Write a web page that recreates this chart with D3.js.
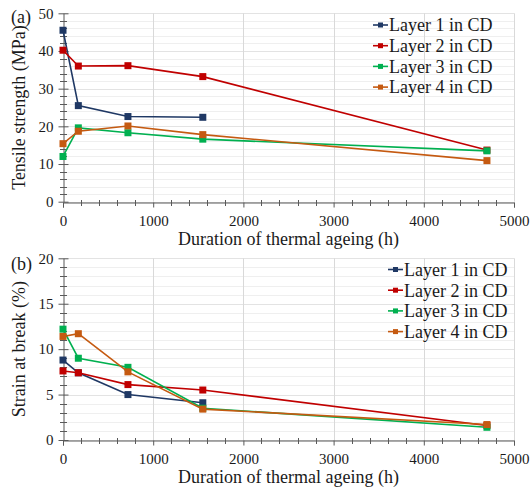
<!DOCTYPE html>
<html><head><meta charset="utf-8">
<script src="https://cdn.jsdelivr.net/npm/d3@7"></script>
<style>body{margin:0;background:#fff}svg{display:block}text{font-family:'Liberation Serif','Times New Roman','DejaVu Serif',serif !important;fill:#1a1a1a}</style>
</head><body>
<svg id="c" width="532" height="489"></svg>
<script>
const hours = [0, 170, 720, 1550, 4700];
const seriesNames = ["Layer 1 in CD", "Layer 2 in CD", "Layer 3 in CD", "Layer 4 in CD"];
const seriesColors = ["#1f3864", "#c00000", "#00b050", "#c55a11"];
const tensile1 = [45.5, 25.5, 22.6, 22.4, null];
const tensile2 = [40.2, 36.0, 36.1, 33.2, 13.7];
const tensile3 = [12.0, 19.6, 18.3, 16.6, 13.5];
const tensile4 = [15.4, 18.7, 20.1, 17.8, 10.9];
const strain1 = [8.8, 7.4, 5.0, 4.1, null];
const strain2 = [7.6, 7.4, 6.1, 5.5, 1.6];
const strain3 = [12.2, 9.0, 8.0, 3.5, 1.4];
const strain4 = [11.4, 11.7, 7.5, 3.4, 1.7];
const xTicks = [0, 1000, 2000, 3000, 4000, 5000];
const tensileTicks = [0, 10, 20, 30, 40, 50];
const strainTicks = [0, 5, 10, 15, 20];

const FONT = "'Liberation Serif','Times New Roman','DejaVu Serif',serif";
const svg = d3.select("#c").attr("font-family", FONT);

function panel(cfg) {
  const x = d3.scaleLinear().domain([0, 5000]).range([63, 514]);
  const y = d3.scaleLinear().domain([0, cfg.ymax]).range([cfg.y0, cfg.y1]);
  const g = svg.append("g");
  const minors = d3.range(0, cfg.ymax + 1e-9, cfg.minor);
  g.selectAll(".hg").data(minors).join("line")
    .attr("x1", x(0)).attr("x2", x(5000))
    .attr("y1", d => Math.round(y(d)) + 0.5).attr("y2", d => Math.round(y(d)) + 0.5)
    .attr("stroke", d => (Math.abs(d % cfg.major) < 1e-9) ? "#e3e3e3" : "#efefef").attr("stroke-width", 1);
  g.selectAll(".vg").data(xTicks.slice(1)).join("line")
    .attr("x1", d => Math.round(x(d)) + 0.5).attr("x2", d => Math.round(x(d)) + 0.5)
    .attr("y1", y(cfg.ymax)).attr("y2", y(0))
    .attr("stroke", "#d9d9d9").attr("stroke-width", 1);
  const ax = d3.axisBottom(x).tickValues(xTicks).tickSize(5).tickFormat(d3.format("d"));
  const xa = g.append("g").attr("transform", `translate(0,${Math.round(y(0)) + 0.5})`).call(ax)
    .attr("font-family", FONT);
  xa.select(".domain").attr("stroke", "#595959");
  xa.selectAll(".tick line").attr("stroke", "#595959");
  xa.selectAll(".tick text").attr("font-size", 15).attr("dy", "1.05em").attr("fill", "#1a1a1a");
  const xm = d3.range(0, 5001, 200).filter(d => d % 1000 !== 0);
  g.selectAll(".xm").data(xm).join("line")
    .attr("x1", d => Math.round(x(d)) + 0.5).attr("x2", d => Math.round(x(d)) + 0.5)
    .attr("y1", Math.round(y(0)) - 2).attr("y2", Math.round(y(0)) + 4).attr("stroke", "#595959");
  const ay = d3.axisLeft(y).tickValues(cfg.ticks).tickSize(5).tickSizeOuter(0);
  const ya = g.append("g").attr("transform", `translate(${Math.round(x(0)) + 0.5},0)`).call(ay)
    .attr("font-family", FONT);
  ya.select(".domain").attr("stroke", "#595959");
  ya.selectAll(".tick line").attr("stroke", "#595959").attr("x2", 5).attr("x1", -5);
  ya.selectAll(".tick text").attr("font-size", 15).attr("x", -10).attr("fill", "#1a1a1a");
  const ym = d3.range(0, cfg.ymax + 1e-9, cfg.minor).filter(d => Math.abs(d % cfg.major) > 1e-9);
  g.selectAll(".ym").data(ym).join("line")
    .attr("x1", Math.round(x(0)) - 3).attr("x2", Math.round(x(0)) + 4)
    .attr("y1", d => Math.round(y(d)) + 0.5).attr("y2", d => Math.round(y(d)) + 0.5).attr("stroke", "#595959");
  const line = d3.line().defined(d => d[1] != null).x(d => x(d[0])).y(d => y(d[1]));
  cfg.data.forEach((vals, i) => {
    const pts = hours.map((h, j) => [h, vals[j]]);
    g.append("path").datum(pts).attr("d", line).attr("fill", "none")
      .attr("stroke", seriesColors[i]).attr("stroke-width", 1.6);
    g.selectAll(".m" + i).data(pts.filter(d => d[1] != null)).join("rect")
      .attr("x", d => x(d[0]) - 3.5).attr("y", d => y(d[1]) - 3.5)
      .attr("width", 7).attr("height", 7).attr("fill", seriesColors[i]);
  });
  seriesNames.forEach((n, i) => {
    const ly = cfg.legY + i * 20.7;
    g.append("line").attr("x1", cfg.legX).attr("x2", cfg.legX + 15).attr("y1", ly).attr("y2", ly)
      .attr("stroke", seriesColors[i]).attr("stroke-width", 1.6);
    g.append("rect").attr("x", cfg.legX + 5).attr("y", ly - 2.5).attr("width", 5).attr("height", 5)
      .attr("fill", seriesColors[i]);
    g.append("text").attr("x", cfg.legX + 16).attr("y", ly).attr("dy", "0.35em")
      .attr("font-size", 18).text(n);
  });
  g.append("text").attr("transform", `translate(${cfg.ytX},${(cfg.y0 + cfg.y1) / 2}) rotate(-90)`)
    .attr("text-anchor", "middle").attr("dy", "0.35em").attr("font-size", 18).text(cfg.ytitle);
  g.append("text").attr("x", (x(0) + x(5000)) / 2).attr("y", cfg.xtY).attr("text-anchor", "middle")
    .attr("dy", "0.35em").attr("font-size", 18).text("Duration of thermal ageing (h)");
  g.append("text").attr("x", 11).attr("y", cfg.labY).attr("dy", "0.35em").attr("font-size", 18).text(cfg.label);
}

panel({ymax: 50, y0: 201.7, y1: 13.3, minor: 2, major: 10, ticks: tensileTicks,
  data: [tensile1, tensile2, tensile3, tensile4], legX: 373, legY: 25,
  ytitle: "Tensile strength (MPa)", ytX: 19, xtY: 239, label: "(a)", labY: 17});
panel({ymax: 20, y0: 440, y1: 258.3, minor: 1, major: 5, ticks: strainTicks,
  data: [strain1, strain2, strain3, strain4], legX: 388, legY: 269.5,
  ytitle: "Strain at break (%)", ytX: 19, xtY: 477, label: "(b)", labY: 264});
</script>
</body></html>
